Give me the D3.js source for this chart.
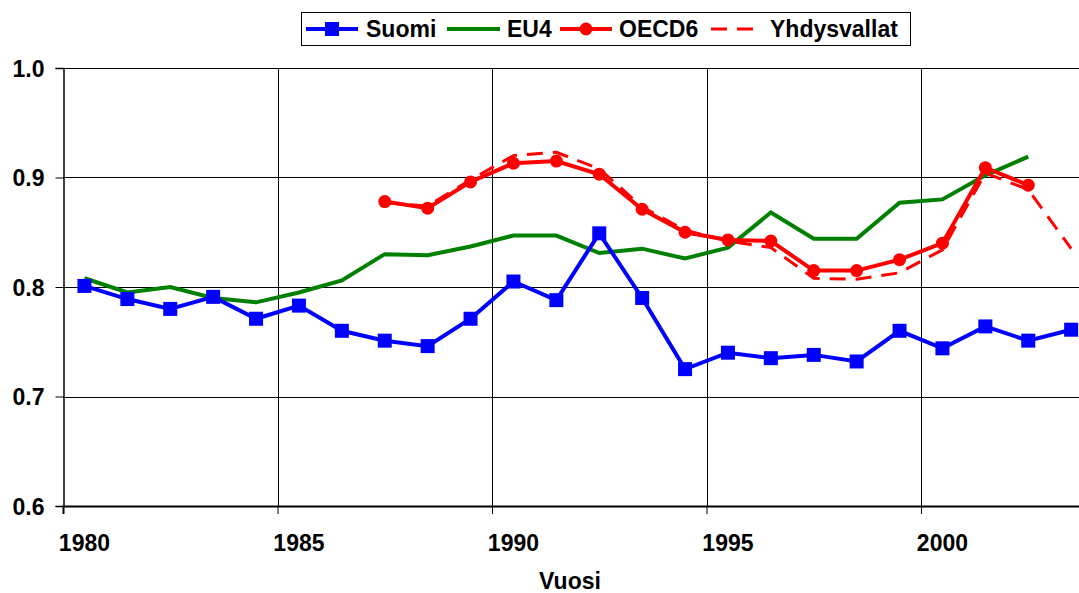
<!DOCTYPE html>
<html><head><meta charset="utf-8">
<script src="https://cdn.jsdelivr.net/npm/d3@7"></script>
<style>body{margin:0;background:#fff}svg text{font-family:"Liberation Sans",Arial,sans-serif;font-weight:bold}</style>
</head><body><svg id="c" width="1079" height="593"></svg>
<script>
const years = d3.range(1980, 2004);
const suomi = [0.801,0.789,0.780,0.791,0.771,0.783,0.760,0.751,0.746,0.771,0.805,0.788,0.849,0.790,0.725,0.740,0.735,0.738,0.732,0.760,0.744,0.764,0.751,0.761];
const eu4 = [0.808,0.795,0.800,0.790,0.786,0.795,0.806,0.830,0.829,0.837,0.847,0.847,0.831,0.835,0.826,0.836,0.868,0.844,0.844,0.877,0.880,0.902,0.919,null];
const oecd6 = [null,null,null,null,null,null,null,0.878,0.872,0.896,0.913,0.915,0.903,0.871,0.850,0.843,0.842,0.815,0.815,0.825,0.840,0.909,0.893,null];
const usa = [null,null,null,null,null,null,null,0.877,0.874,0.898,0.920,0.923,0.908,0.873,0.852,0.842,0.836,0.808,0.807,0.813,0.834,0.904,0.889,0.835];
const yTicks = [0.6,0.7,0.8,0.9,1.0];
const xTickYears = [1980,1985,1990,1995,2000];
const seriesNames = ["Suomi","EU4","OECD6","Yhdysvallat"];

const svg = d3.select("#c");
const x = d3.scaleLinear().domain([1979.5, 2003.5]).range([63, 63 + 24*42.9]);
const y = d3.scaleLinear().domain([0.6, 1.0]).range([506, 68]);

// grid
svg.append("g").selectAll("line").data(yTicks.slice(1)).join("line")
  .attr("x1", 63).attr("x2", 1079).attr("y1", d=>Math.round(y(d))+0.5).attr("y2", d=>Math.round(y(d))+0.5)
  .attr("stroke","#000").attr("stroke-width",1);
svg.append("g").selectAll("line").data(xTickYears.slice(1)).join("line")
  .attr("x1", d=>Math.round(x(d-0.5))+0.5).attr("x2", d=>Math.round(x(d-0.5))+0.5).attr("y1", 68).attr("y2", 506)
  .attr("stroke","#000").attr("stroke-width",1);

// axes
const yAxis = d3.axisLeft(y).tickValues(yTicks).tickFormat(d3.format(".1f")).tickSize(8).tickPadding(11);
const gy = svg.append("g").attr("transform","translate(63.5,0)").call(yAxis);
gy.selectAll("text").attr("font-size",23).attr("fill","#000").attr("dy","0.36em");
gy.select(".domain").attr("stroke","#000").attr("stroke-width",1.5);
const xAxis = d3.axisBottom(x).tickValues(xTickYears.map(d=>d-0.5)).tickSize(8).tickFormat("");
const gx = svg.append("g").attr("transform","translate(0,506)").call(xAxis);
gx.select(".domain").attr("stroke","#000").attr("stroke-width",2);
gx.selectAll(".tick line").attr("stroke","#000");
svg.append("g").selectAll("text").data(xTickYears).join("text")
  .attr("x", d=>x(d)).attr("y", 551).attr("text-anchor","middle").attr("font-size",23).text(d=>d);
svg.append("text").attr("x",570).attr("y",589).attr("text-anchor","middle").attr("font-size",23).text("Vuosi");

const line = d3.line().defined(d=>d[1]!=null).x(d=>x(d[0])).y(d=>y(d[1]));
const z = arr => years.map((yr,i)=>[yr, arr[i]]);

svg.append("path").attr("d", line(z(eu4))).attr("fill","none").attr("stroke","#008000").attr("stroke-width",4);
svg.append("path").attr("d", line(z(usa))).attr("fill","none").attr("stroke","#ff0000").attr("stroke-width",3).attr("stroke-dasharray","16,10");
svg.append("path").attr("d", line(z(oecd6))).attr("fill","none").attr("stroke","#ff0000").attr("stroke-width",4);
svg.append("g").selectAll("circle").data(z(oecd6).filter(d=>d[1]!=null)).join("circle")
  .attr("cx", d=>x(d[0])).attr("cy", d=>y(d[1])).attr("r",6.5).attr("fill","#ff0000");
svg.append("path").attr("d", line(z(suomi))).attr("fill","none").attr("stroke","#0000ff").attr("stroke-width",4);
svg.append("g").selectAll("rect").data(z(suomi)).join("rect")
  .attr("x", d=>x(d[0])-7).attr("y", d=>y(d[1])-7).attr("width",14).attr("height",14).attr("fill","#0000ff");

// legend
const lg = svg.append("g");
lg.append("rect").attr("x",301.5).attr("y",12.5).attr("width",609).attr("height",33).attr("fill","#fff").attr("stroke","#000").attr("stroke-width",1);
const items = [
  {name:seriesNames[0], x1:306, x2:358, tx:366, color:"#0000ff", w:4, marker:"sq"},
  {name:seriesNames[1], x1:447, x2:500, tx:507, color:"#008000", w:4},
  {name:seriesNames[2], x1:560, x2:612, tx:619, color:"#ff0000", w:4, marker:"ci"},
  {name:seriesNames[3], x1:711, x2:762, tx:770, color:"#ff0000", w:3, dash:"16,10"}
];
items.forEach(it=>{
  lg.append("line").attr("x1",it.x1).attr("x2",it.x2).attr("y1",29).attr("y2",29)
    .attr("stroke",it.color).attr("stroke-width",it.w).attr("stroke-dasharray",it.dash||null);
  const cx=(it.x1+it.x2)/2;
  if(it.marker==="sq") lg.append("rect").attr("x",cx-7).attr("y",22).attr("width",14).attr("height",14).attr("fill",it.color);
  if(it.marker==="ci") lg.append("circle").attr("cx",cx).attr("cy",29).attr("r",6.5).attr("fill",it.color);
  lg.append("text").attr("x",it.tx).attr("y",37).attr("font-size",23).text(it.name);
});
</script></body></html>
